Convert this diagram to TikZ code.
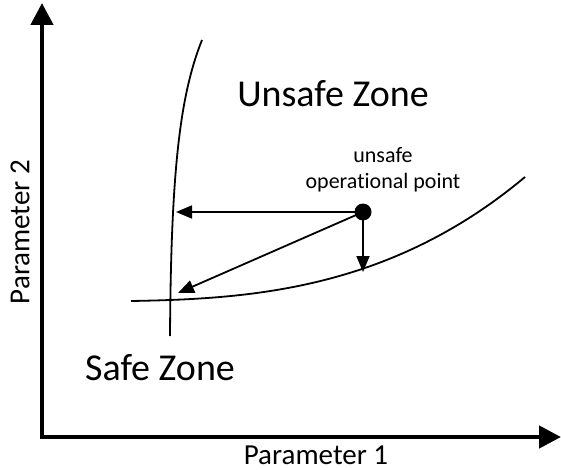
\documentclass[tikz,border=0pt]{standalone}
\usepackage{fontspec}
\setmainfont{Carlito}[Ligatures={NoCommon}]
\usetikzlibrary{arrows.meta}
\begin{document}
\begin{tikzpicture}[x=1pt,y=-1pt,
  axis/.style={line width=4.5pt,-{Triangle[width=22pt,length=22pt]}},
  boundary/.style={line width=1.8pt},
  move/.style={line width=1.8pt,-{Triangle[width=13pt,length=16pt]}},
  zone/.style={font=\fontsize{38}{44}\selectfont,inner sep=0pt},
  axlabel/.style={font=\fontsize{29}{34}\selectfont,inner sep=0pt},
  small/.style={font=\fontsize{22}{26}\selectfont,align=center,inner sep=0pt}]
\useasboundingbox (0,0) rectangle (561,470);
\coordinate (o) at (42,437);
\coordinate (ytop) at (42,3);
\coordinate (xend) at (561,437);
\draw[axis] ([yshift=-2pt]o) -- (ytop);
\draw[axis] ([xshift=-2pt]o) -- (xend);
\node[axlabel,anchor=base,text depth=0pt] (p1) at (316,464) {Parameter 1};
\node[axlabel,rotate=90] (p2) at (20,232) {Parameter 2};
% boundaries
\coordinate (la) at (202,40);
\coordinate (lb) at (170,336);
\draw[boundary] (la) .. controls (180,95) and (171,170) .. (lb);
\coordinate (ba) at (131,301);
\coordinate (bb) at (525,177);
\draw[boundary] (ba) .. controls (250,299) and (390,290) .. (bb);
% point
\node[circle,fill=black,minimum size=17pt,inner sep=0pt] (pt) at (363,212) {};
\coordinate (tl) at (176,212);
\coordinate (td) at (363,272);
\coordinate (tg) at (178,293);
\draw[move] (pt.center) -- (tl);
\draw[move] (pt.center) -- (td);
\draw[move] (pt.center) -- (tg);
\node[small] (lab) at (383,170) {unsafe\\operational point};
\node[zone] (uz) at (333,94) {Unsafe Zone};
\node[zone] (sz) at (160,368) {Safe Zone};
\end{tikzpicture}
\end{document}
